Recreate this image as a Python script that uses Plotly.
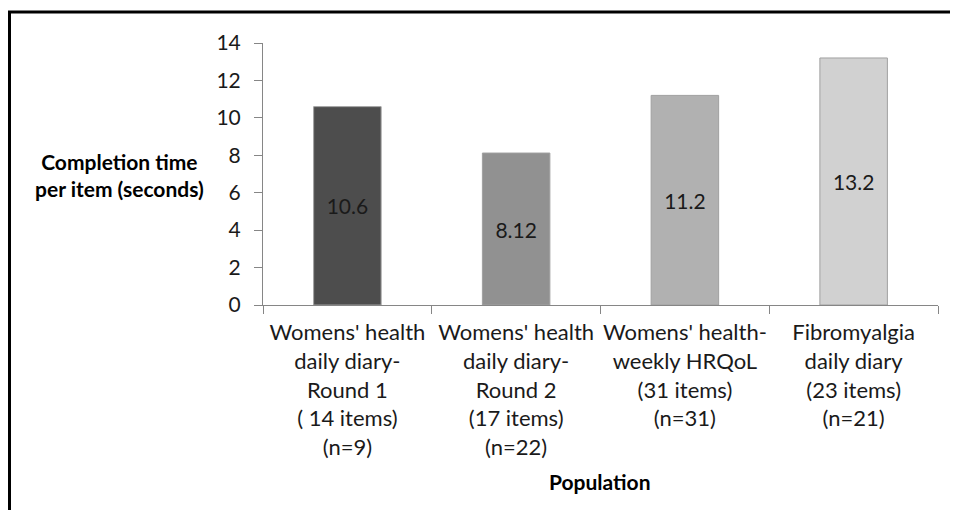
import plotly.graph_objects as go

categories = [
    "Womens' health<br>daily diary-<br>Round 1<br>( 14 items)<br>(n=9)",
    "Womens' health<br>daily diary-<br>Round 2<br>(17 items)<br>(n=22)",
    "Womens' health-<br>weekly HRQoL<br>(31 items)<br>(n=31)",
    "Fibromyalgia<br>daily diary<br>(23 items)<br>(n=21)",
]
values = [10.6, 8.12, 11.2, 13.2]
value_labels = ["10.6", "8.12", "11.2", "13.2"]
bar_colors = ["#4d4d4d", "#919191", "#b1b1b1", "#d1d1d1"]
y_ticks = [0, 2, 4, 6, 8, 10, 12, 14]

# page has an 8px body margin; the figure is sized to fill the 958x510 view
OFF = 8
W, H = 958 - OFF, 510 - OFF
L, T = 263 - OFF, 43 - OFF
R = W - (938 - OFF)
B = H - (305 - OFF)
pw, ph = W - L - R, H - T - B

def px_x(x):
    return (x - OFF - L) / pw

def px_y(y):
    return 1 - (y - OFF - T) / ph

FONT = "Lato"
FS = 21
fig = go.Figure(go.Bar(
    x=categories, y=values, text=value_labels,
    textposition="inside", insidetextanchor="middle", textangle=0,
    textfont=dict(family=FONT, size=FS, color="#1a1a1a"),
    marker=dict(color=bar_colors, line=dict(color="#a0a0a0", width=1)),
    width=0.4, hoverinfo="skip",
))

fig.update_layout(
    width=W, height=H,
    margin=dict(l=L, r=R, t=T, b=B, pad=0, autoexpand=False),
    paper_bgcolor="white", plot_bgcolor="white",
    showlegend=False,
    font=dict(family=FONT, size=FS, color="#1a1a1a"),
    uniformtext=dict(minsize=FS, mode="show"),
    xaxis=dict(
        showline=True, linecolor="#868686", linewidth=1,
        ticks="outside", ticklen=8, tickcolor="#868686",
        tickson="boundaries", showgrid=False,
        tickangle=0, automargin=False,
        tickfont=dict(family=FONT, size=22, color="#1a1a1a"),
        ticklabelstandoff=8,
    ),
    yaxis=dict(
        range=[0, 14], tickvals=y_ticks,
        showline=True, linecolor="#868686", linewidth=1,
        ticks="outside", ticklen=8, tickcolor="#868686",
        showgrid=False, zeroline=False, automargin=False,
        tickfont=dict(family=FONT, size=FS, color="#1a1a1a"),
        ticklabelstandoff=9,
    ),
    shapes=[
        dict(type="line", xref="paper", yref="paper",
             x0=px_x(8), x1=px_x(958), y0=px_y(12), y1=px_y(12),
             line=dict(color="black", width=3)),
        dict(type="line", xref="paper", yref="paper",
             x0=px_x(9.5), x1=px_x(9.5), y0=px_y(12), y1=px_y(510),
             line=dict(color="black", width=3)),
    ],
    annotations=[
        dict(text="<b>Completion time<br>per item (seconds)</b>",
             xref="paper", yref="paper", x=px_x(119), y=px_y(175),
             xanchor="center", yanchor="middle", showarrow=False,
             font=dict(family=FONT, size=FS, color="black")),
        dict(text="<b>Population</b>",
             xref="paper", yref="paper", x=px_x(600), y=px_y(481),
             xanchor="center", yanchor="middle", showarrow=False,
             font=dict(family=FONT, size=FS, color="black")),
    ],
)

fig.write_html("out.html")
